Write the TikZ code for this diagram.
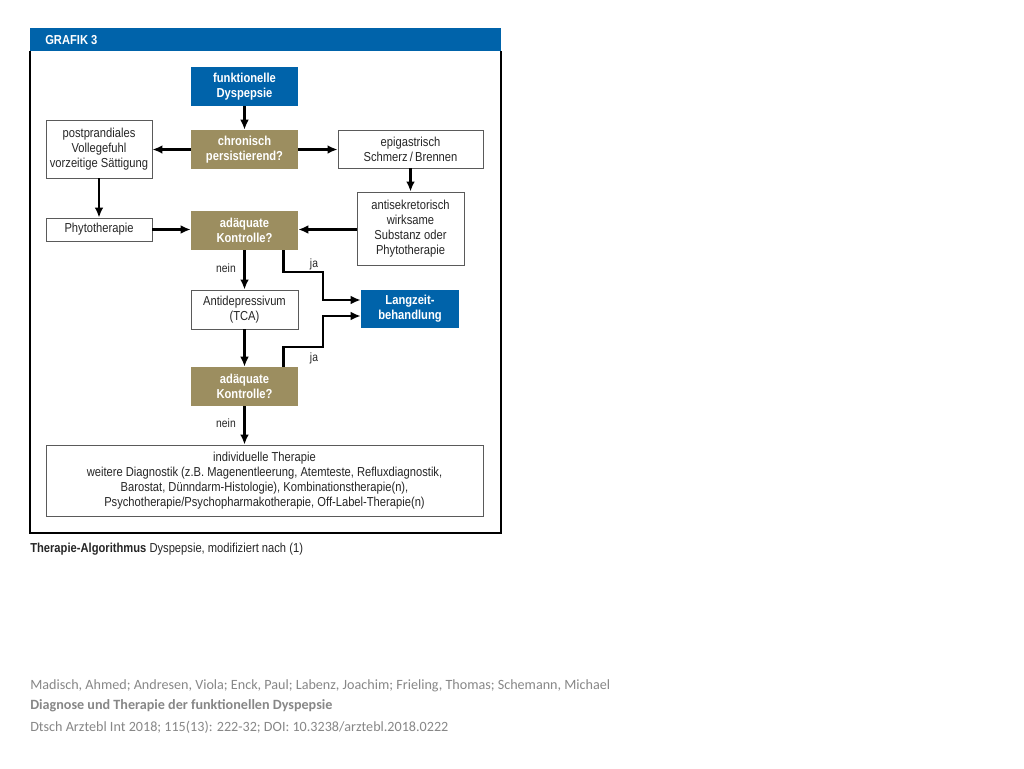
\documentclass[tikz,border=0pt]{standalone}
\usepackage{fontspec}
\setmainfont[FakeStretch=0.86]{Liberation Sans}
\newfontfamily\footfont{Carlito}
\usetikzlibrary{arrows.meta,calc}
\definecolor{hblue}{RGB}{0,99,170}
\definecolor{khaki}{RGB}{156,142,96}
\definecolor{footgray}{RGB}{135,135,135}
\definecolor{bordergray}{RGB}{90,90,90}
\tikzset{
  base/.style={inner sep=1pt, align=center, font=\fontsize{9.75}{11.1}\selectfont},
  whitebox/.style={base, draw=bordergray, line width=0.6pt, fill=white, text=black!85},
  bluebox/.style={base, fill=hblue, text=white, font=\fontsize{9.75}{11.1}\selectfont\bfseries},
  khakibox/.style={base, fill=khaki, text=white, font=\fontsize{9.75}{11.1}\selectfont\bfseries},
  arr/.style={line width=2.2pt, -{Latex[length=7.5pt,width=6.5pt]}},
  lbl/.style={font=\fontsize{9}{10}\selectfont, text=black!85, inner sep=0pt},
}
\begin{document}
\begin{tikzpicture}[x=0.75pt,y=-0.75pt]
\useasboundingbox (0,0) rectangle (1024,768);
\fill[white] (0,0) rectangle (1024,768);
% frame
\fill[hblue] (30,28) rectangle (501,51);
\draw[line width=1.5pt] (30,51) -- (30,533) -- (501,533) -- (501,51);
\node[anchor=west, text=white, font=\fontsize{9.75}{10}\selectfont\bfseries, inner sep=0pt] (title) at (45,40) {GRAFIK 3};
% nodes
\node[bluebox, minimum width=80.25pt, minimum height=29.25pt] (fd) at (244.5,86.5) {funktionelle\\Dyspepsie};
\node[khakibox, minimum width=80.25pt, minimum height=29.25pt] (chr) at (244.5,149.5) {chronisch\\persistierend?};
\node[whitebox, minimum width=79.5pt, minimum height=43.5pt] (post) at (99,149) {postprandiales\\Vollegefuhl\\vorzeitige Sättigung};
\node[whitebox, minimum width=108.75pt, minimum height=28.5pt] (epi) at (410.5,149) {epigastrisch\\Schmerz\,/\,Brennen};
\node[whitebox, minimum width=80.25pt, minimum height=54.75pt] (anti) at (410.5,228.5) {antisekretorisch\\wirksame\\Substanz oder\\Phytotherapie};
\node[whitebox, minimum width=79.5pt, minimum height=17.25pt] (phyto) at (99,229.5) {Phytotherapie};
\node[khakibox, minimum width=80.25pt, minimum height=29.25pt] (ak1) at (244.5,230.5) {adäquate\\Kontrolle?};
\node[whitebox, minimum width=80.25pt, minimum height=29.25pt] (tca) at (244.5,309.5) {Antidepressivum\\(TCA)};
\node[bluebox, minimum width=73.5pt, minimum height=28.5pt] (lz) at (410,309) {Langzeit-\\behandlung};
\node[khakibox, minimum width=80.25pt, minimum height=29.25pt] (ak2) at (244.5,386.5) {adäquate\\Kontrolle?};
\node[whitebox, minimum width=327.75pt, minimum height=53.25pt] (ind) at (264.5,480.5) {individuelle Therapie\\weitere Diagnostik (z.B. Magenentleerung, Atemteste, Refluxdiagnostik,\\Barostat, Dünndarm-Histologie), Kombinationstherapie(n),\\Psychotherapie/Psychopharmakotherapie, Off-Label-Therapie(n)};
% connectors
\draw[arr] (fd) -- (chr);
\draw[arr] (chr) -- (chr -| post.east);
\draw[arr] (chr) -- (chr -| epi.west);
\draw[arr] (post) -- (phyto);
\draw[arr] (epi) -- (anti);
\draw[arr] (phyto) -- (phyto -| ak1.west);
\draw[arr] (anti.west |- phyto) -- (phyto -| ak1.east);
\draw[arr] (ak1) -- (tca);
\draw[arr] (tca) -- (ak2);
\draw[arr] (ak2) -- (ak2 |- ind.north);
\draw[arr] ([xshift=-11.25pt]ak1.south east) |- (323,272) |- ([yshift=6.75pt]lz.west);
\draw[arr] ([xshift=-11.25pt]ak2.north east) |- (323,347) |- ([yshift=-5.25pt]lz.west);
% labels
\node[lbl] (l1) at (226,268) {nein};
\node[lbl] (l2) at (314,264) {ja};
\node[lbl] (l3) at (314,358) {ja};
\node[lbl] (l4) at (226,423) {nein};
% caption
\node[anchor=west, inner sep=0pt, font=\fontsize{9.75}{10}\selectfont, text=black!85] (cap) at (30,549) {\textbf{Therapie-Algorithmus} Dyspepsie, modifiziert nach (1)};
% footer
\node[anchor=west, inner sep=0pt, font=\footfont\fontsize{10.6}{13}\selectfont, text=footgray] (f1) at (30,686) {Madisch, Ahmed; Andresen, Viola; Enck, Paul; Labenz, Joachim; Frieling, Thomas; Schemann, Michael};
\node[anchor=west, inner sep=0pt, font=\footfont\fontsize{10.6}{13}\selectfont\bfseries, text=footgray] (f2) at (30,706) {Diagnose und Therapie der funktionellen Dyspepsie};
\node[anchor=west, inner sep=0pt, font=\footfont\fontsize{10.6}{13}\selectfont, text=footgray] (f3) at (30,727) {Dtsch Arztebl Int 2018; 115(13): 222-32; DOI: 10.3238/arztebl.2018.0222};
\end{tikzpicture}
\end{document}
